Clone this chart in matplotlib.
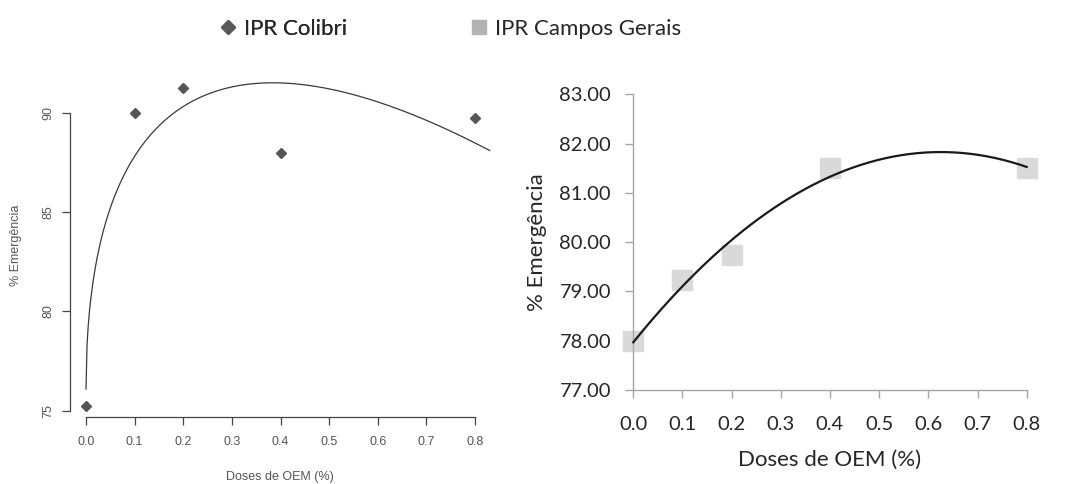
import numpy as np
import matplotlib
matplotlib.use("Agg")
import matplotlib.pyplot as plt
from matplotlib.lines import Line2D

# ---- data ----
doses = [0.0, 0.1, 0.2, 0.4, 0.8]
colibri = [75.25, 90.0, 91.26, 88.01, 89.75]
campos = [78.0, 79.23, 79.74, 81.5, 81.5]
left_yticks = [75, 80, 85, 90]
x_ticks = [0.0, 0.1, 0.2, 0.3, 0.4, 0.5, 0.6, 0.7, 0.8]
right_yticks = [77, 78, 79, 80, 81, 82, 83]
series_names = ["IPR Colibri", "IPR Campos Gerais"]

W, H = 1067, 484
fig = plt.figure(figsize=(W / 100, H / 100), dpi=100)

def rect(x0, y0, x1, y1):
    return [x0 / W, 1 - y1 / H, (x1 - x0) / W, (y1 - y0) / H]

# ---------------- left panel (R style) ----------------
axL = fig.add_axes(rect(70, 60, 495, 417))
xa = np.array(doses)
ya = np.array(colibri)
A = np.column_stack([np.ones_like(xa), np.sqrt(xa), xa])
coef, *_ = np.linalg.lstsq(A, ya, rcond=None)
xx = np.linspace(0, 0.83, 400)
yy = coef[0] + coef[1] * np.sqrt(xx) + coef[2] * xx
axL.plot(xx, yy, color="#3a3a3a", lw=0.9)
axL.plot(doses, colibri, ls="none", marker="D", ms=5.5, color="#555555", mec="#555555")
axL.set_xlim(-0.0329, 0.841)
axL.set_ylim(74.68, 92.68)
for s in ["top", "right"]:
    axL.spines[s].set_visible(False)
axL.spines["left"].set_bounds(75, 90)
axL.spines["bottom"].set_bounds(0, 0.8)
for s in ["left", "bottom"]:
    axL.spines[s].set_color("#444444")
    axL.spines[s].set_linewidth(0.9)
axL.set_yticks(left_yticks)
axL.set_xticks(x_ticks)
axL.set_xticklabels([f"{v:.1f}" for v in x_ticks])
axL.tick_params(axis="both", direction="out", length=6, width=0.9, color="#444444",
                labelsize=9, labelcolor="#555555")
axL.tick_params(axis="x", pad=8)
axL.tick_params(axis="y", pad=5)
for lab in axL.get_yticklabels():
    lab.set_rotation(90)
    lab.set_va("center")
for lab in axL.get_xticklabels() + axL.get_yticklabels():
    lab.set_family("Liberation Sans")
axL.set_xlabel("Doses de OEM (%)", fontsize=9, color="#555555", family="Liberation Sans")
axL.set_ylabel("% Emergência", fontsize=9, color="#555555", family="Liberation Sans")
axL.xaxis.set_label_coords(0.494, -0.151)
axL.yaxis.set_label_coords(-0.113, 0.48)

# ---------------- right panel (Excel style) ----------------
axR = fig.add_axes(rect(633.3, 94.3, 1026.7, 390))
p = np.polyfit(doses, campos, 2)
xr = np.linspace(0, 0.8, 300)
axR.plot(doses, campos, ls="none", marker="s", ms=14, color="#d9d9d9", mec="#d9d9d9",
         clip_on=False, zorder=2)
axR.plot(xr, np.polyval(p, xr), color="#1a1a1a", lw=1.6, zorder=3, clip_on=False)
axR.set_xlim(0, 0.8)
axR.set_ylim(77, 83)
for s in ["top", "right"]:
    axR.spines[s].set_visible(False)
for s in ["left", "bottom"]:
    axR.spines[s].set_color("#a6a6a6")
    axR.spines[s].set_linewidth(1.0)
axR.set_yticks(right_yticks)
axR.set_yticklabels([f"{v:.2f}" for v in right_yticks])
axR.set_xticks(x_ticks)
axR.set_xticklabels([f"{v:.1f}" for v in x_ticks])
axR.tick_params(axis="both", direction="out", length=6, width=1.0, color="#a6a6a6",
                labelsize=14.5, labelcolor="#262626")
axR.tick_params(axis="y", pad=10)
axR.tick_params(axis="x", pad=13)
for lab in axR.get_xticklabels() + axR.get_yticklabels():
    lab.set_family("Lato")
axR.set_xlabel("Doses de OEM (%)", fontsize=16, color="#262626", family="Lato")
axR.set_ylabel("% Emergência", fontsize=16, color="#262626", family="Lato")
axR.xaxis.set_label_coords(0.5, -0.203)
axR.yaxis.set_label_coords(-0.22, 0.5)

# ---------------- legend ----------------
h1 = Line2D([], [], ls="none", marker="D", ms=7, color="#595959")
h2 = Line2D([], [], ls="none", marker="s", ms=10, color="#b3b3b3")
common = dict(frameon=False, handlelength=0.7, handletextpad=0.4, borderpad=0,
              borderaxespad=0, loc="center left", prop={"family": "Lato", "size": 16},
              labelcolor="#262626")
leg1 = fig.legend([h1], [series_names[0]], bbox_to_anchor=(220 / W, 1 - 29 / H), **common)
fig.add_artist(leg1)
leg2 = fig.legend([h2], [series_names[1]], bbox_to_anchor=(471 / W, 1 - 29 / H), **common)

fig.savefig("out.png", dpi=100)
